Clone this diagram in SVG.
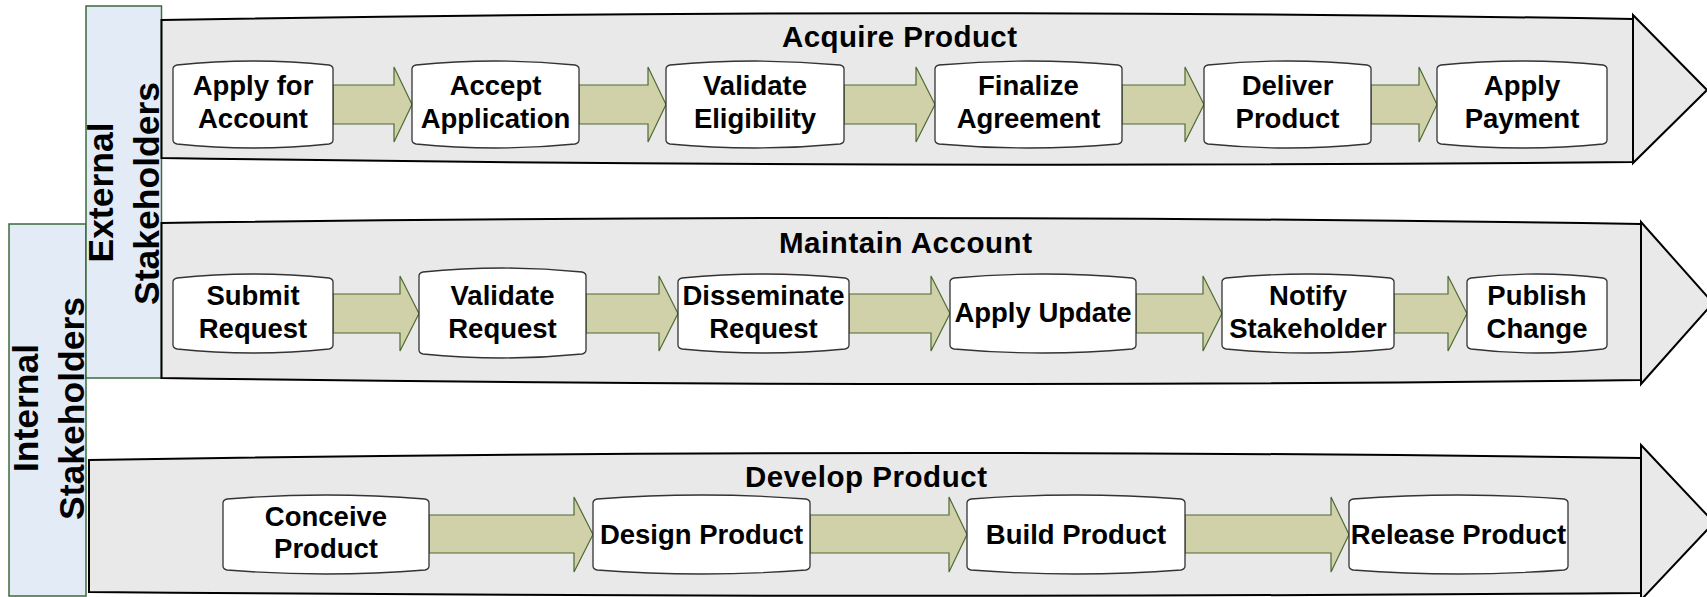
<svg xmlns="http://www.w3.org/2000/svg" width="1707" height="597" viewBox="0 0 1707 597">
<style>
.bg{fill:#ffffff}
.side{fill:#e3ebf6;stroke:#3d6b3d;stroke-width:1.5}
.band{fill:#e9e9e9;stroke:#000;stroke-width:2;stroke-linejoin:miter}
.arr{fill:#d0d1a9;stroke:#4e6b35;stroke-width:1.2;stroke-linejoin:miter}
.node{fill:#fff;stroke:#333;stroke-width:1.3}
.t{font-family:"Liberation Sans",Arial,sans-serif;font-weight:bold;font-size:27.5px;fill:#000;text-anchor:middle}
.ti{font-family:"Liberation Sans",Arial,sans-serif;font-weight:bold;font-size:29.5px;fill:#000;text-anchor:middle}
.sl{font-family:"Liberation Sans",Arial,sans-serif;font-weight:bold;font-size:35.5px;fill:#000;text-anchor:middle}
</style>
<rect class="bg" x="0" y="0" width="1707" height="597"/>

<g id="internal-stakeholders">
<rect class="side" x="9" y="224" width="77" height="372"/>
<text class="sl" transform="translate(38,408) rotate(-90)">Internal</text>
<text class="sl" transform="translate(83.5,408.5) rotate(-90)">Stakeholders</text>
</g>
<g id="external-stakeholders">
<rect class="side" x="86" y="6" width="75.5" height="372"/>
<text class="sl" transform="translate(113,192.5) rotate(-90)">External</text>
<text class="sl" transform="translate(159,193.5) rotate(-90)">Stakeholders</text>
</g>

<g id="band-acquire-product">
<path class="band" d="M161.5,20 Q897,7 1633,19 L1633,162 Q897,169 161.5,158 Z"/>
<path class="band" d="M1633,15 L1707,90 L1633,163 Z"/>
<text class="ti" x="899.5" y="47" textLength="235" lengthAdjust="spacing">Acquire Product</text>
</g>
<g id="band-maintain-account">
<path class="band" d="M161.5,223 Q901,212.5 1641,224 L1641,380 Q901,389 161.5,378 Z"/>
<path class="band" d="M1641,222 L1713,303 L1641,384 Z"/>
<text class="ti" x="905.5" y="253" textLength="253" lengthAdjust="spacing">Maintain Account</text>
</g>
<g id="band-develop-product">
<path class="band" d="M89,460 Q865,447 1641,458 L1641,593 Q865,599 89,592 Z"/>
<path class="band" d="M1641,445 L1714,522.5 L1641,600 Z"/>
<text class="ti" x="866" y="487" textLength="242" lengthAdjust="spacing">Develop Product</text>
</g>

<g id="connectors">
<path class="arr" d="M333,85 H394 V67 L412,104.5 L394,142 V124 H333 Z"/>
<path class="arr" d="M579,85 H648 V67 L666,104.5 L648,142 V124 H579 Z"/>
<path class="arr" d="M844,85 H916 V67 L935,104.5 L916,142 V124 H844 Z"/>
<path class="arr" d="M1122,85 H1185 V67 L1204,104.5 L1185,142 V124 H1122 Z"/>
<path class="arr" d="M1371,85 H1419 V67 L1437,104.5 L1419,142 V124 H1371 Z"/>
<path class="arr" d="M333,294 H400 V276 L419,313.5 L400,351 V333 H333 Z"/>
<path class="arr" d="M586,294 H659 V276 L678,313.5 L659,351 V333 H586 Z"/>
<path class="arr" d="M849,294 H931 V276 L950,313.5 L931,351 V333 H849 Z"/>
<path class="arr" d="M1136,294 H1203 V276 L1222,313.5 L1203,351 V333 H1136 Z"/>
<path class="arr" d="M1394,294 H1448 V276 L1467,313.5 L1448,351 V333 H1394 Z"/>
<path class="arr" d="M429,515 H574 V497 L593,534.5 L574,572 V553 H429 Z"/>
<path class="arr" d="M810,515 H949 V497 L967,534.5 L949,572 V553 H810 Z"/>
<path class="arr" d="M1185,515 H1331 V497 L1349,534.5 L1331,572 V553 H1185 Z"/>
</g>

<g id="apply-for-account">
<path class="node" d="M173,69 Q173,66 177,65 Q253,57 329,65 Q333,66 333,69 L333,140 Q333,143 329,144 Q253,152 177,144 Q173,143 173,140 Z"/>
<text class="t" x="253" y="94.5">Apply for</text><text class="t" x="253" y="127.5">Account</text>
</g>
<g id="accept-application">
<path class="node" d="M412,69 Q412,66 416,65 Q495.5,57 575,65 Q579,66 579,69 L579,140 Q579,143 575,144 Q495.5,152 416,144 Q412,143 412,140 Z"/>
<text class="t" x="495.5" y="94.5">Accept</text><text class="t" x="495.5" y="127.5">Application</text>
</g>
<g id="validate-eligibility">
<path class="node" d="M666,69 Q666,66 670,65 Q755,57 840,65 Q844,66 844,69 L844,140 Q844,143 840,144 Q755,152 670,144 Q666,143 666,140 Z"/>
<text class="t" x="755" y="94.5">Validate</text><text class="t" x="755" y="127.5">Eligibility</text>
</g>
<g id="finalize-agreement">
<path class="node" d="M935,69 Q935,66 939,65 Q1028.5,57 1118,65 Q1122,66 1122,69 L1122,140 Q1122,143 1118,144 Q1028.5,152 939,144 Q935,143 935,140 Z"/>
<text class="t" x="1028.5" y="94.5">Finalize</text><text class="t" x="1028.5" y="127.5">Agreement</text>
</g>
<g id="deliver-product">
<path class="node" d="M1204,69 Q1204,66 1208,65 Q1287.5,57 1367,65 Q1371,66 1371,69 L1371,140 Q1371,143 1367,144 Q1287.5,152 1208,144 Q1204,143 1204,140 Z"/>
<text class="t" x="1287.5" y="94.5">Deliver</text><text class="t" x="1287.5" y="127.5">Product</text>
</g>
<g id="apply-payment">
<path class="node" d="M1437,69 Q1437,66 1441,65 Q1522,57 1603,65 Q1607,66 1607,69 L1607,140 Q1607,143 1603,144 Q1522,152 1441,144 Q1437,143 1437,140 Z"/>
<text class="t" x="1522" y="94.5">Apply</text><text class="t" x="1522" y="127.5">Payment</text>
</g>

<g id="submit-request">
<path class="node" d="M173,282 Q173,279 177,278 Q253,270 329,278 Q333,279 333,282 L333,345 Q333,348 329,349 Q253,357 177,349 Q173,348 173,345 Z"/>
<text class="t" x="253" y="305">Submit</text><text class="t" x="253" y="338">Request</text>
</g>
<g id="validate-request">
<path class="node" d="M419,276 Q419,273 423,272 Q502.5,264 582,272 Q586,273 586,276 L586,350 Q586,353 582,354 Q502.5,362 423,354 Q419,353 419,350 Z"/>
<text class="t" x="502.5" y="305">Validate</text><text class="t" x="502.5" y="338">Request</text>
</g>
<g id="disseminate-request">
<path class="node" d="M678,282 Q678,279 682,278 Q763.5,270 845,278 Q849,279 849,282 L849,345 Q849,348 845,349 Q763.5,357 682,349 Q678,348 678,345 Z"/>
<text class="t" x="763.5" y="305">Disseminate</text><text class="t" x="763.5" y="338">Request</text>
</g>
<g id="apply-update">
<path class="node" d="M950,282 Q950,279 954,278 Q1043,270 1132,278 Q1136,279 1136,282 L1136,345 Q1136,348 1132,349 Q1043,357 954,349 Q950,348 950,345 Z"/>
<text class="t" x="1043" y="322">Apply Update</text>
</g>
<g id="notify-stakeholder">
<path class="node" d="M1222,282 Q1222,279 1226,278 Q1308,270 1390,278 Q1394,279 1394,282 L1394,345 Q1394,348 1390,349 Q1308,357 1226,349 Q1222,348 1222,345 Z"/>
<text class="t" x="1308" y="305">Notify</text><text class="t" x="1308" y="338">Stakeholder</text>
</g>
<g id="publish-change">
<path class="node" d="M1467,282 Q1467,279 1471,278 Q1537,270 1603,278 Q1607,279 1607,282 L1607,345 Q1607,348 1603,349 Q1537,357 1471,349 Q1467,348 1467,345 Z"/>
<text class="t" x="1537" y="305">Publish</text><text class="t" x="1537" y="338">Change</text>
</g>

<g id="conceive-product">
<path class="node" d="M223,503 Q223,500 227,499 Q326,491 425,499 Q429,500 429,503 L429,566 Q429,569 425,570 Q326,578 227,570 Q223,569 223,566 Z"/>
<text class="t" x="326" y="526">Conceive</text><text class="t" x="326" y="558">Product</text>
</g>
<g id="design-product">
<path class="node" d="M593,503 Q593,500 597,499 Q701.5,491 806,499 Q810,500 810,503 L810,566 Q810,569 806,570 Q701.5,578 597,570 Q593,569 593,566 Z"/>
<text class="t" x="701.5" y="543.5">Design Product</text>
</g>
<g id="build-product">
<path class="node" d="M967,503 Q967,500 971,499 Q1076,491 1181,499 Q1185,500 1185,503 L1185,566 Q1185,569 1181,570 Q1076,578 971,570 Q967,569 967,566 Z"/>
<text class="t" x="1076" y="543.5">Build Product</text>
</g>
<g id="release-product">
<path class="node" d="M1349,503 Q1349,500 1353,499 Q1458.5,491 1564,499 Q1568,500 1568,503 L1568,566 Q1568,569 1564,570 Q1458.5,578 1353,570 Q1349,569 1349,566 Z"/>
<text class="t" x="1458.5" y="543.5">Release Product</text>
</g>
</svg>
